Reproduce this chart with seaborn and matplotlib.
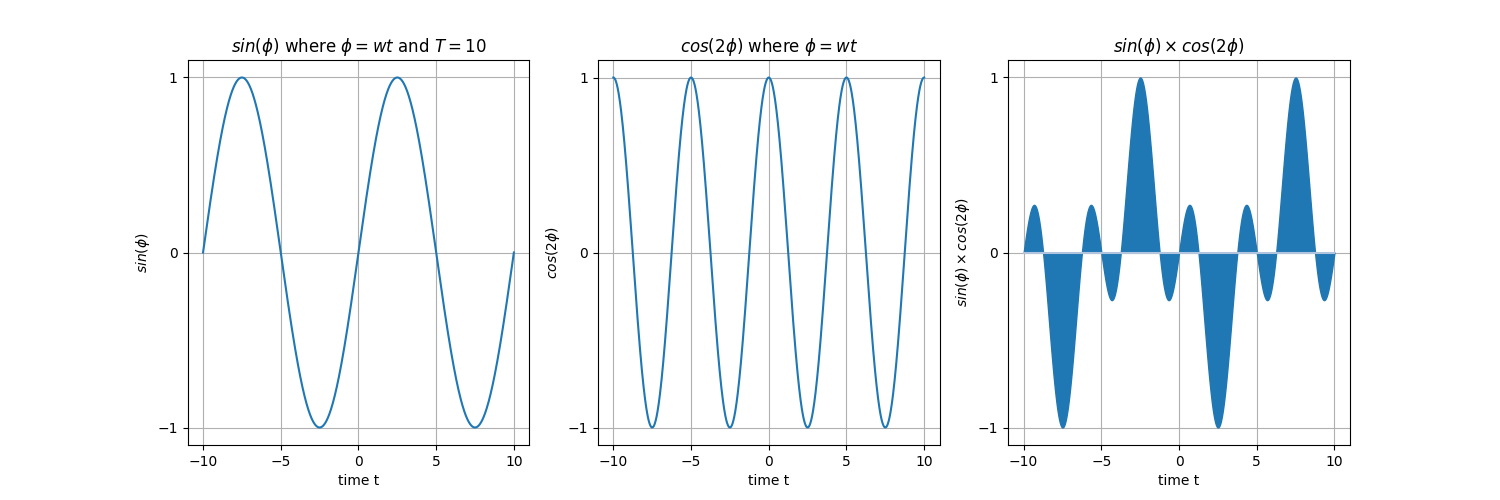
import numpy as np
import matplotlib
matplotlib.use("Agg")
import matplotlib.pyplot as plt
import seaborn as sns

# period and time samples, as stated in the titles
T = 10
t = np.linspace(-10, 10, 1000)
w = 2 * np.pi / T
sin_phi = np.sin(w * t)
cos_2phi = np.cos(2 * w * t)
product = sin_phi * cos_2phi

y_ticks = [-1, 0, 1]

fig, axes = plt.subplots(1, 3, figsize=(15, 5), dpi=100)

sns.lineplot(x=t, y=sin_phi, ax=axes[0], color="#1f77b4")
axes[0].set_title(r"$sin(\phi)$ where $\phi = wt$ and $T = 10$")
axes[0].set_ylabel(r"$sin(\phi)$")

sns.lineplot(x=t, y=cos_2phi, ax=axes[1], color="#1f77b4")
axes[1].set_title(r"$cos(2\phi)$ where $\phi = wt$")
axes[1].set_ylabel(r"$cos(2\phi)$")

axes[2].fill_between(t, product, 0, color="#1f77b4")
axes[2].plot(t, np.zeros_like(t), color="#b0c4de", lw=1.5)
axes[2].set_title(r"$sin(\phi) \times cos(2\phi)$")
axes[2].set_ylabel(r"$sin(\phi) \times cos(2\phi)$")

for ax in axes:
    ax.set_xlabel("time t")
    ax.set_yticks(y_ticks)
    ax.set_xticks([-10, -5, 0, 5, 10])
    ax.grid(True)
    ax.set_axisbelow(True)

plt.savefig("out.png")
